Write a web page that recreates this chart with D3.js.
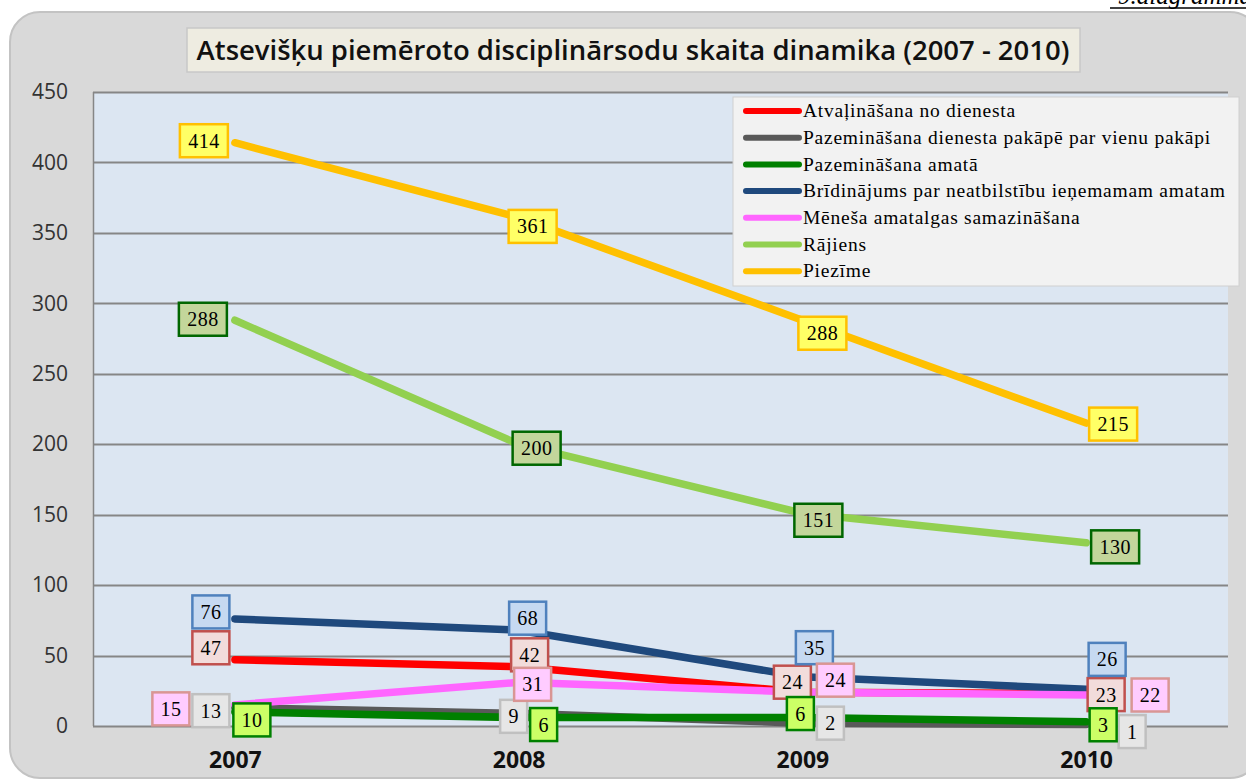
<!DOCTYPE html>
<html>
<head>
<meta charset="utf-8">
<script src="https://cdn.jsdelivr.net/npm/d3@7"></script>
<style>
  body { margin: 0; background: #fff; }
  svg { display: block; }
</style>
</head>
<body>
<div id="chart"></div>
<script>
// categories and series values
var years = ['2007', '2008', '2009', '2010']
var yTicks = [0, 50, 100, 150, 200, 250, 300, 350, 400, 450]

var names = [
  'Atvaļināšana no dienesta',
  'Pazemināšana dienesta pakāpē par vienu pakāpi',
  'Pazemināšana amatā',
  'Brīdinājums par neatbilstību ieņemamam amatam',
  'Mēneša amatalgas samazināšana',
  'Rājiens',
  'Piezīme'
]
var atvalinasana = [47, 42, 24, 23]
var pakape = [13, 9, 2, 1]
var amata = [10, 6, 6, 3]
var bridinajums = [76, 68, 35, 26]
var amatalga = [15, 31, 24, 22]
var rajiens = [288, 200, 151, 130]
var piezime = [414, 361, 288, 215]

var seriesValues = [atvalinasana, pakape, amata, bridinajums, amatalga, rajiens, piezime]

// styling per series (line colour, label fill, label border)
var lineColors = ['#ff0000', '#595959', '#008000', '#1f497d', '#ff66ff', '#92d050', '#ffc000']
var labelFills = ['#f2dcdb', '#e6e6e6', '#ccff66', '#c6d9f1', '#ffccff', '#c3d69b', '#ffff66']
var labelStrokes = ['#c0504d', '#c0c0c0', '#008000', '#4f81bd', '#d99694', '#006600', '#ffc000']

// label nudges (pixels from the point), the labels were placed by hand in the original
var nudges = [
  [[-24, -12], [11, -12], [-10, -10], [20, 1]],
  [[-24, 3], [-5, 3], [28, 0], [46, 7]],
  [[17, 8], [25, 7], [-2, -4], [17, 3]],
  [[-24, -7], [9, -12], [12, -29], [21, -30]],
  [[-64, 4], [14, 2], [33, -12], [64, 0]],
  [[-32, -1], [18, 4], [16, 7], [29, 4]],
  [[-31, -2], [14, 9], [20, 13], [27, 1]]
]

var W = 1246, H = 780
var svg = d3.select('#chart').append('svg').attr('width', W).attr('height', H)

// outer chart frame
svg.append('rect')
  .attr('x', 10).attr('y', 12).attr('width', 1250).attr('height', 766)
  .attr('rx', 30).attr('ry', 30)
  .attr('fill', '#d9d9d9').attr('stroke', '#c3c3c3').attr('stroke-width', 2)

// caption, cut by the top edge as in the original
svg.append('text')
  .attr('x', 1252).attr('y', 4)
  .attr('text-anchor', 'end')
  .attr('font-family', 'Liberation Serif, serif')
  .attr('font-style', 'italic')
  .attr('font-size', 25)
  .attr('fill', '#000')
  .text('9.diagramma')
svg.append('line').attr('x1', 1110).attr('x2', 1246).attr('y1', 8).attr('y2', 8)
  .attr('stroke', '#000').attr('stroke-width', 1.5)

var m = {left: 93, top: 92, right: 1228, bottom: 726}
var x = d3.scalePoint().domain(years).range([m.left, m.right]).padding(0.5)
var y = d3.scaleLinear().domain([0, 450]).range([m.bottom, m.top])

// plot area
svg.append('rect')
  .attr('x', m.left).attr('y', m.top)
  .attr('width', m.right - m.left).attr('height', m.bottom - m.top)
  .attr('fill', '#dce6f2')

svg.append('g')
  .selectAll('line').data(yTicks).join('line')
  .attr('x1', m.left).attr('x2', m.right)
  .attr('y1', d => Math.round(y(d)) + 0.5).attr('y2', d => Math.round(y(d)) + 0.5)
  .attr('stroke', '#868686').attr('stroke-width', 2)

svg.append('line')
  .attr('x1', m.left + 0.5).attr('x2', m.left + 0.5)
  .attr('y1', m.top).attr('y2', m.bottom)
  .attr('stroke', '#868686').attr('stroke-width', 1.5)

// y axis labels
var yAxis = d3.axisLeft(y).tickValues(yTicks).tickSize(0).tickPadding(25)
var yg = svg.append('g').attr('transform', 'translate(' + m.left + ',0)').call(yAxis)
yg.select('.domain').remove()
yg.selectAll('text')
  .attr('font-family', 'Open Sans, sans-serif')
  .attr('font-size', 21)
  .attr('fill', '#333')

// x axis labels
var xAxis = d3.axisBottom(x).tickSize(0).tickPadding(26)
var xg = svg.append('g').attr('transform', 'translate(0,' + m.bottom + ')').call(xAxis)
xg.select('.domain').remove()
xg.selectAll('text')
  .attr('font-family', 'Open Sans, sans-serif')
  .attr('font-weight', 'bold')
  .attr('font-size', 23)
  .attr('fill', '#111')

// lines
var line = d3.line()
  .x((d, i) => x(years[i]))
  .y(d => y(d))

var seriesG = svg.append('g')
seriesG.selectAll('path').data(seriesValues).join('path')
  .attr('d', line)
  .attr('fill', 'none')
  .attr('stroke', (d, i) => lineColors[i])
  .attr('stroke-width', 7.5)
  .attr('stroke-linecap', 'round')
  .attr('stroke-linejoin', 'round')

// data labels
var labels = []
seriesValues.forEach(function(vals, s) {
  vals.forEach(function(v, i) {
    labels.push({s: s, v: v, x: x(years[i]) + nudges[s][i][0], y: y(v) + nudges[s][i][1]})
  })
})

var boxW = {1: 27, 2: 37, 3: 48}
var lg = svg.append('g').selectAll('g').data(labels).join('g')
  .attr('transform', d => 'translate(' + d.x + ',' + d.y + ')')
lg.append('rect')
  .attr('x', d => -boxW[String(d.v).length] / 2)
  .attr('y', -16.5)
  .attr('width', d => boxW[String(d.v).length])
  .attr('height', 33)
  .attr('fill', d => labelFills[d.s])
  .attr('stroke', d => labelStrokes[d.s])
  .attr('stroke-width', 2.5)
lg.append('text')
  .attr('text-anchor', 'middle')
  .attr('dy', '0.35em')
  .attr('font-family', 'Liberation Serif, serif')
  .attr('font-size', 20)
  .attr('letter-spacing', 0.5)
  .attr('fill', '#000')
  .text(d => d.v)

// legend
var leg = svg.append('g').attr('transform', 'translate(733,97)')
leg.append('rect')
  .attr('width', 506).attr('height', 189)
  .attr('fill', '#f2f2f2').attr('stroke', '#d0d0d0').attr('stroke-width', 1)
var items = leg.selectAll('g').data(names).join('g')
  .attr('transform', (d, i) => 'translate(0,' + (14 + i * 26.7) + ')')
items.append('line')
  .attr('x1', 13).attr('x2', 66)
  .attr('stroke', (d, i) => lineColors[i])
  .attr('stroke-width', 6)
  .attr('stroke-linecap', 'round')
items.append('text')
  .attr('x', 70).attr('dy', '0.32em')
  .attr('font-family', 'Liberation Serif, serif')
  .attr('font-size', 19.5)
  .attr('letter-spacing', 0.75)
  .attr('fill', '#000')
  .text(d => d)

// title
var tg = svg.append('g')
tg.append('rect')
  .attr('x', 187).attr('y', 28).attr('width', 893).attr('height', 44)
  .attr('fill', '#eeece1').attr('stroke', '#c8c8c8').attr('stroke-width', 1.5)
var title = tg.append('text')
  .attr('x', 633).attr('y', 50).attr('dy', '0.35em')
  .attr('text-anchor', 'middle')
  .attr('font-family', 'Open Sans, sans-serif')
  .attr('font-weight', 600)
  .attr('font-size', 25)
  .attr('fill', '#111')
  .text('Atsevišķu piemēroto disciplinārsodu skaita dinamika (2007 - 2010)')
var tw = title.node().getComputedTextLength()
title.attr('font-size', 25 * 873 / tw)
</script>
</body>
</html>
